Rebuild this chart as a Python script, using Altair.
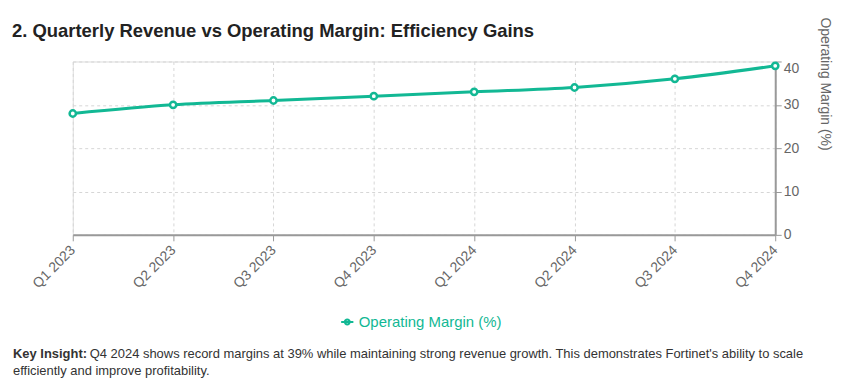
import altair as alt
import pandas as pd

quarters = ["Q1 2023", "Q2 2023", "Q3 2023", "Q4 2023", "Q1 2024", "Q2 2024", "Q3 2024", "Q4 2024"]
margins = [28, 30, 31, 32, 33, 34, 36, 39]
series_name = "Operating Margin (%)"
heading = "2. Quarterly Revenue vs Operating Margin: Efficiency Gains"
insight_bold = "Key Insight:"
insight_lines = [
    "Q4 2024 shows record margins at 39% while maintaining strong revenue growth. This demonstrates Fortinet's ability to scale",
    "efficiently and improve profitability.",
]

COLOR = "#12b894"
FONT = "Liberation Sans"

df = pd.DataFrame({"quarter": quarters, "margin": margins, "series": series_name})

x = alt.X("quarter:N", sort=quarters, title=None,
          scale=alt.Scale(type="point", padding=0),
          axis=alt.Axis(labelAngle=-45, labelAlign="right", labelBaseline="middle",
                        labelColor="#666", labelFontSize=14, labelFont=FONT,
                        labelPadding=7,
                        domainColor="#999", domainWidth=2, tickColor="#999", tickSize=6,
                        grid=True, gridColor="#d6d6d6", gridDash=[3, 3]))
y = alt.Y("margin:Q", title=series_name,
          scale=alt.Scale(domain=[0, 40], nice=False),
          axis=alt.Axis(orient="right", values=[0, 10, 20, 30, 40],
                        labelColor="#666", labelFontSize=14, labelFont=FONT,
                        labelPadding=2,
                        labelBaseline=alt.expr("datum.value == 40 ? 'top' : 'middle'"),
                        domainColor="#999", domainWidth=2, tickColor="#999", tickSize=6,
                        grid=True, gridColor="#d6d6d6", gridDash=[3, 3],
                        titleColor="#666", titleFontSize=14, titleFont=FONT,
                        titleFontWeight="normal", titleAngle=90,
                        titleAlign="right", titleBaseline="bottom",
                        titleX=42, titleY=89))

color = alt.Color("series:N", scale=alt.Scale(domain=[series_name], range=[COLOR]),
                  legend=alt.Legend(title=None, orient="none", legendX=268, legendY=254,
                                    labelColor=COLOR, labelFontSize=15, labelFont=FONT,
                                    symbolType="M-1,0L1,0M-0.4,0A0.4,0.4 0 1,1 0.4,0A0.4,0.4 0 1,1 -0.4,0",
                                    symbolStrokeColor=COLOR, symbolFillColor="white",
                                    symbolStrokeWidth=2, symbolSize=150))

line = alt.Chart(df).mark_line(interpolate="monotone", strokeWidth=3).encode(x=x, y=y, color=color)
pts = alt.Chart(df).mark_point(filled=True, fill="white", stroke=COLOR, strokeWidth=2.5,
                               size=40, opacity=1).encode(x=x, y=y)

head = alt.Chart(pd.DataFrame({"t": [heading]})).mark_text(
    align="left", baseline="middle", fontWeight="bold", fontSize=18.5, font=FONT, color="#222"
).encode(text="t:N", x=alt.value(-61), y=alt.value(-31))

txt_bold = alt.Chart(pd.DataFrame({"t": [insight_bold]})).mark_text(
    align="left", baseline="middle", fontWeight="bold", fontSize=13, font=FONT, color="#333"
).encode(text="t:N", x=alt.value(-60), y=alt.value(294))

txt_df = pd.DataFrame({"t": insight_lines})
txt1 = alt.Chart(txt_df.iloc[[0]]).mark_text(
    align="left", baseline="middle", fontSize=13, font=FONT, color="#333"
).encode(text="t:N", x=alt.value(17), y=alt.value(294))
txt2 = alt.Chart(txt_df.iloc[[1]]).mark_text(
    align="left", baseline="middle", fontSize=13, font=FONT, color="#333"
).encode(text="t:N", x=alt.value(-60), y=alt.value(311))

chart = alt.layer(line, pts, head, txt_bold, txt1, txt2).properties(
    width=705, height=174,
    autosize=alt.AutoSizeParams(type="none"),
    padding={"left": 65, "top": 53, "right": 60, "bottom": 144},
).configure_view(stroke=None).configure(background="white")

chart.save("out.html", embed_options={"renderer": "svg", "actions": False})
